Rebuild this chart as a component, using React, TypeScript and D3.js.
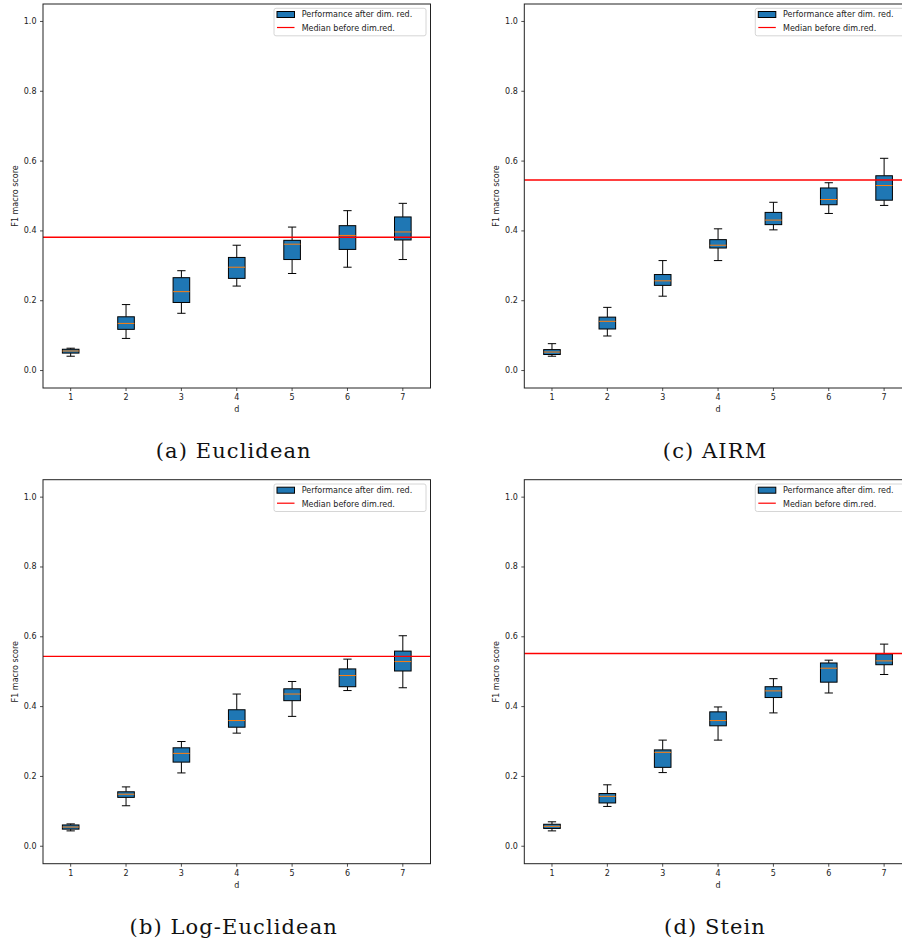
import React from "react";
import * as d3 from "d3";

// ---- data ----
const dims = [1, 2, 3, 4, 5, 6, 7];
const yTicks = [0.0, 0.2, 0.4, 0.6, 0.8, 1.0];

// five-number summaries per d: [whiskerLow, q1, median, q3, whiskerHigh]
const euclideanStats = [
  [0.041, 0.05, 0.056, 0.061, 0.064],
  [0.092, 0.118, 0.135, 0.154, 0.189],
  [0.164, 0.195, 0.226, 0.266, 0.286],
  [0.242, 0.264, 0.296, 0.324, 0.359],
  [0.278, 0.318, 0.362, 0.373, 0.411],
  [0.296, 0.347, 0.387, 0.415, 0.458],
  [0.318, 0.374, 0.397, 0.44, 0.479],
];
const airmStats = [
  [0.041, 0.046, 0.053, 0.06, 0.077],
  [0.099, 0.119, 0.141, 0.153, 0.181],
  [0.213, 0.244, 0.257, 0.275, 0.315],
  [0.315, 0.351, 0.359, 0.375, 0.406],
  [0.403, 0.418, 0.431, 0.453, 0.482],
  [0.45, 0.475, 0.49, 0.523, 0.538],
  [0.473, 0.488, 0.53, 0.558, 0.608],
];
const logEuclideanStats = [
  [0.044, 0.049, 0.055, 0.061, 0.064],
  [0.116, 0.14, 0.149, 0.156, 0.17],
  [0.21, 0.241, 0.266, 0.282, 0.3],
  [0.324, 0.341, 0.36, 0.391, 0.436],
  [0.372, 0.417, 0.436, 0.451, 0.472],
  [0.446, 0.457, 0.489, 0.508, 0.536],
  [0.454, 0.502, 0.529, 0.559, 0.603],
];
const steinStats = [
  [0.044, 0.051, 0.057, 0.063, 0.07],
  [0.114, 0.124, 0.143, 0.151, 0.176],
  [0.211, 0.226, 0.269, 0.276, 0.304],
  [0.304, 0.345, 0.36, 0.385, 0.399],
  [0.382, 0.426, 0.445, 0.457, 0.48],
  [0.439, 0.47, 0.51, 0.525, 0.533],
  [0.492, 0.52, 0.531, 0.551, 0.579],
];
const medianBefore = [0.382, 0.546, 0.544, 0.552];
const panelTitles = ["(a) Euclidean", "(c) AIRM", "(b) Log-Euclidean", "(d) Stein"];
const legendLabels = ["Performance after dim. red.", "Median before dim.red."];
const xLabel = "d";
const yLabel = "F1 macro score";

const panelStats = [euclideanStats, airmStats, logEuclideanStats, steinStats];

// ---- layout ----
const AX_W = 387.5;
const AX_H = 384;
const panelOrigins = [
  [43, 4],
  [524.3, 4],
  [43, 479.7],
  [524.3, 479.7],
];

const FONT = "DejaVu Sans, sans-serif";

function Panel({ ox, oy, stats, base, title }: any) {
  const x = d3.scaleLinear().domain([0.5, 7.5]).range([ox, ox + AX_W]);
  const y = d3.scaleLinear().domain([-0.05, 1.05]).range([oy + AX_H, oy]);
  const boxW = x(0.3) - x(0);
  const capW = x(0.15) - x(0);
  const right = ox + AX_W;
  const bottom = oy + AX_H;
  const lgX = right - 156.5;
  const lgY = oy + 4.3;
  return (
    <g>
      {/* boxes */}
      {stats.map((s: number[], i: number) => {
        const cx = x(dims[i]);
        const [lo, q1, med, q3, hi] = s;
        return (
          <g key={i}>
            <line x1={cx} x2={cx} y1={y(q1)} y2={y(lo)} stroke="#000" strokeWidth={1} />
            <line x1={cx} x2={cx} y1={y(q3)} y2={y(hi)} stroke="#000" strokeWidth={1} />
            <line x1={cx - capW / 2} x2={cx + capW / 2} y1={y(lo)} y2={y(lo)} stroke="#000" strokeWidth={1} />
            <line x1={cx - capW / 2} x2={cx + capW / 2} y1={y(hi)} y2={y(hi)} stroke="#000" strokeWidth={1} />
            <rect
              x={cx - boxW / 2}
              y={y(q3)}
              width={boxW}
              height={y(q1) - y(q3)}
              fill="#1f77b4"
              stroke="#000"
              strokeWidth={1}
            />
            <line x1={cx - boxW / 2} x2={cx + boxW / 2} y1={y(med)} y2={y(med)} stroke="#ff7f0e" strokeWidth={1} />
          </g>
        );
      })}
      {/* median before */}
      <line x1={ox} x2={right} y1={y(base)} y2={y(base)} stroke="#ff0000" strokeWidth={1.4} />
      {/* spines */}
      <rect x={ox} y={oy} width={AX_W} height={AX_H} fill="none" stroke="#222" strokeWidth={1} />
      {/* y ticks */}
      {yTicks.map((t) => (
        <g key={t}>
          <line x1={ox - 3} x2={ox} y1={y(t)} y2={y(t)} stroke="#222" strokeWidth={0.8} />
          <text x={ox - 6.5} y={y(t)} fontSize={8} fontFamily={FONT} textAnchor="end" dominantBaseline="central" fill="#222">
            {t.toFixed(1)}
          </text>
        </g>
      ))}
      {/* x ticks */}
      {dims.map((d) => (
        <g key={d}>
          <line x1={x(d)} x2={x(d)} y1={bottom} y2={bottom + 3} stroke="#222" strokeWidth={0.8} />
          <text x={x(d)} y={bottom + 12} fontSize={8} fontFamily={FONT} textAnchor="middle" fill="#222">
            {d}
          </text>
        </g>
      ))}
      <text x={(ox + right) / 2} y={bottom + 24} fontSize={8} fontFamily={FONT} textAnchor="middle" fill="#222">
        {xLabel}
      </text>
      <text
        transform={`translate(${ox - 28},${(oy + bottom) / 2}) rotate(-90)`}
        fontSize={8}
        fontFamily={FONT}
        textAnchor="middle"
        dominantBaseline="central"
        fill="#222"
      >
        {yLabel}
      </text>
      {/* legend */}
      <rect x={lgX} y={lgY} width={152} height={27.5} rx={2} fill="#fff" fillOpacity={0.8} stroke="#ccc" strokeWidth={0.8} />
      <rect x={lgX + 3} y={lgY + 3.2} width={17.5} height={6} fill="#1f77b4" stroke="#000" strokeWidth={1} />
      <text x={lgX + 27.7} y={lgY + 9} fontSize={8} fontFamily={FONT} fill="#222">
        {legendLabels[0]}
      </text>
      <line x1={lgX + 3} x2={lgX + 20.5} y1={lgY + 19.2} y2={lgY + 19.2} stroke="#ff0000" strokeWidth={1.2} />
      <text x={lgX + 27.7} y={lgY + 22.6} fontSize={8} fontFamily={FONT} fill="#222">
        {legendLabels[1]}
      </text>
      {/* caption */}
      <text
        x={(ox + right) / 2 - 3}
        y={bottom + 70}
        fontSize={21}
        letterSpacing={1.1}
        fontFamily="DejaVu Serif, serif"
        textAnchor="middle"
        fill="#111"
      >
        {title}
      </text>
    </g>
  );
}

export default function App() {
  return (
    <svg
      width={902}
      height={947}
      viewBox="0 0 902 947"
      style={{ position: "absolute", left: 0, top: 0, background: "#fff" }}
    >
      <rect x={0} y={0} width={902} height={947} fill="#fff" />
      {panelStats.map((stats, i) => (
        <Panel
          key={i}
          ox={panelOrigins[i][0]}
          oy={panelOrigins[i][1]}
          stats={stats}
          base={medianBefore[i]}
          title={panelTitles[i]}
        />
      ))}
    </svg>
  );
}
